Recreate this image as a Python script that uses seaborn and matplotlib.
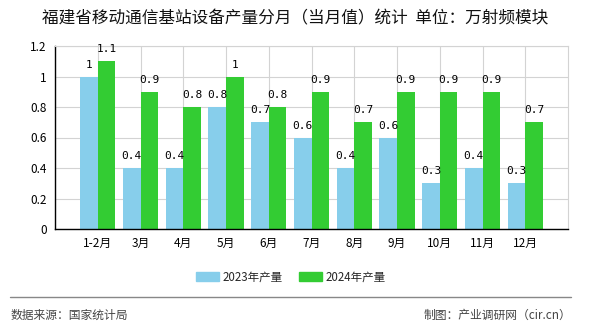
import matplotlib
matplotlib.use("Agg")
import matplotlib.pyplot as plt
import seaborn as sns
import pandas as pd
from matplotlib.lines import Line2D

months = ["1-2月", "3月", "4月", "5月", "6月", "7月", "8月", "9月", "10月", "11月", "12月"]
v2023 = [1, 0.4, 0.4, 0.8, 0.7, 0.6, 0.4, 0.6, 0.3, 0.4, 0.3]
v2024 = [1.1, 0.9, 0.8, 1, 0.8, 0.9, 0.7, 0.9, 0.9, 0.9, 0.7]
series = ["2023年产量", "2024年产量"]
yticks = [0, 0.2, 0.4, 0.6, 0.8, 1, 1.2]
ytick_labels = ["0", "0.2", "0.4", "0.6", "0.8", "1", "1.2"]
title = "福建省移动通信基站设备产量分月（当月值）统计  单位：万射频模块"
source = "数据来源：国家统计局"
maker = "制图：产业调研网（cir.cn）"

sns.set_theme(style="white")
plt.rcParams["font.family"] = ["Noto Sans CJK SC", "DejaVu Sans"]

df = pd.DataFrame({
    "month": months * 2,
    "value": v2023 + v2024,
    "series": [series[0]] * len(months) + [series[1]] * len(months),
})
colors = ["#87CEEB", "#33CC33"]

fig = plt.figure(figsize=(5.9, 3.3), dpi=100)
ax = fig.add_axes([55 / 590, 1 - 229 / 330, 513 / 590, 183 / 330])
sns.barplot(data=df, x="month", y="value", hue="series", palette=colors,
            width=0.82, gap=0, ax=ax, legend=False, saturation=1, linewidth=0,
            edgecolor="none")

ax.set_xlim(-1, 11)
ax.set_ylim(0, 1.2)
ax.set_yticks(yticks)
ax.set_yticklabels(ytick_labels)
ax.set_xticks(list(range(-1, 11)))
ax.set_xticklabels([""] + months)
ax.set_xlabel("")
ax.set_ylabel("")
ax.tick_params(axis="both", labelsize=8.5, colors="black", length=4, width=0.8, direction="out", pad=2)
ax.grid(True, color="#d3d3d3", linewidth=0.8)
ax.set_axisbelow(True)
for side in ["top", "right"]:
    ax.spines[side].set_color("#d3d3d3")
    ax.spines[side].set_linewidth(0.8)
for side in ["left", "bottom"]:
    ax.spines[side].set_color("black")
    ax.spines[side].set_linewidth(1)

for cont in ax.containers:
    labels = [("%g" % b.get_height()) for b in cont]
    ax.bar_label(cont, labels=labels, padding=5, fontsize=8, color="black",
                 family="DejaVu Sans Mono")

fig.text(295 / 590, 1 - 19 / 330, title, ha="center", va="center", fontsize=12, color="#111111")

# legend
handles = [plt.Rectangle((0, 0), 1, 1, color=c) for c in colors]
fig.legend(handles, series, loc="center", bbox_to_anchor=(291 / 590, 1 - 277 / 330), ncol=2,
           frameon=False, fontsize=8.3, handlelength=2.0, handleheight=0.9,
           columnspacing=1.4, handletextpad=0.3)

fig.add_artist(Line2D([10 / 590, 571 / 590], [1 - 297 / 330] * 2, color="#888888", linewidth=1,
                      transform=fig.transFigure))
fig.text(11 / 590, 1 - 315 / 330, source, ha="left", va="center", fontsize=8.5, color="#444444")
fig.text(571 / 590, 1 - 315 / 330, maker, ha="right", va="center", fontsize=8.5, color="#444444")

fig.savefig("out.png", dpi=100)
